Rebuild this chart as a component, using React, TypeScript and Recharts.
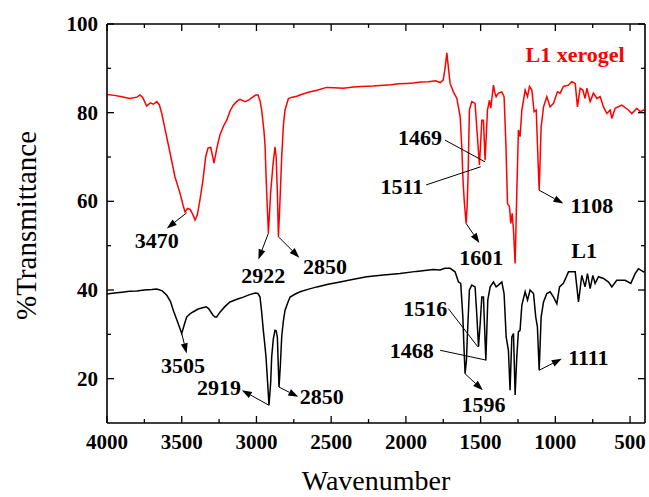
import React from 'react';
import { LineChart, Line, XAxis, YAxis, ReferenceLine, ReferenceDot, Label } from 'recharts';

// L1 xerogel (red) spectrum
const xerogelWavenumber = [
  4000, 3950, 3900, 3850, 3800, 3779, 3760, 3735, 3710, 3690, 3667, 3650, 3634, 3610, 3578, 3545, 3511, 3490,
  3478, 3460, 3444, 3425, 3411, 3395, 3378, 3357, 3340, 3324, 3306, 3284, 3265, 3244, 3220, 3199, 3175, 3155,
  3130, 3110, 3076, 3050, 3030, 3005, 2989, 2975, 2965, 2950, 2942, 2935, 2920, 2905, 2890, 2876, 2868, 2860,
  2853, 2845, 2831, 2820, 2809, 2786, 2760, 2730, 2700, 2641, 2600, 2530, 2480, 2420, 2350, 2300, 2220, 2150,
  2100, 2050, 1994, 1950, 1900, 1850, 1800, 1793, 1770, 1750, 1738, 1726, 1715, 1704, 1682, 1659, 1637, 1626,
  1618, 1610, 1597, 1590, 1584, 1575, 1559, 1537, 1526, 1508, 1500, 1492, 1481, 1470, 1462, 1454, 1441, 1432,
  1414, 1405, 1396, 1381, 1358, 1343, 1331, 1320, 1307, 1298, 1289, 1280, 1269, 1258, 1247, 1236, 1224, 1202,
  1186, 1173, 1157, 1142, 1128, 1120, 1108, 1095, 1079, 1057, 1035, 1012, 986, 968, 946, 912, 890, 867, 852,
  834, 816, 801, 789, 767, 745, 722, 700, 678, 655, 633, 622, 600, 555, 511, 488, 455, 432, 410, 400,
];
const xerogelTransmittance = [
  84.1, 83.9, 83.6, 83.2, 83.5, 84.0, 83.4, 81.5, 82.2, 81.9, 82.5, 81.8, 79.9, 76, 70.9, 65.5, 61.8, 59,
  57.6, 58.4, 58.2, 57, 55.8, 57, 60.3, 65, 70, 72, 72.2, 68.6, 72, 75, 77, 78.3, 80.5, 81.7,
  82.6, 83, 82.5, 82.9, 83.4, 84, 84, 82.5, 80.6, 76, 72.3, 65, 52.8, 62, 68, 72.3, 70, 62,
  52, 58, 70, 77, 80.6, 83.2, 83.5, 83.7, 84.1, 84.7, 85, 85.7, 85.6, 85.5, 85.8, 85.9, 86, 86.2,
  86.3, 86.5, 86.6, 86.7, 86.9, 87, 87.2, 87.1, 86.8, 87.4, 90, 93.5, 90, 86.6, 84.7, 83.2, 79.1, 72.3,
  65, 60.3, 55, 59, 65.5, 80.6, 82.5, 82.1, 76.8, 68.2, 73, 78.3, 78.3, 69.3, 75, 80.6, 82.8, 81,
  86.2, 84.5, 83.6, 84.4, 84.7, 83.6, 73.1, 59.5, 58.8, 55, 57.3, 53.5, 46, 61.8, 76.1, 74.6, 80.6, 85.1,
  83.6, 85.9, 85.1, 80.2, 80.6, 73.1, 62.5, 76.8, 81.3, 83.6, 81.3, 82.1, 84.7, 84.4, 85.9, 86.2, 87, 86.6, 81.3,
  85.5, 85.1, 83.2, 85.5, 82.5, 84.4, 83.2, 83.6, 81.3, 79.8, 80.6, 78.7, 81, 81.7, 80.6, 79.8, 81, 80.2, 80.6, 80.4,
];

// L1 (black) spectrum
const l1Wavenumber = [
  4000, 3950, 3900, 3850, 3800, 3750, 3700, 3667, 3630, 3600, 3575, 3556, 3530, 3500, 3480, 3467, 3445, 3422,
  3390, 3360, 3337, 3320, 3306, 3290, 3277, 3266, 3244, 3210, 3177, 3130, 3088, 3050, 3009, 2990, 2976, 2965,
  2954, 2945, 2936, 2925, 2916, 2905, 2898, 2887, 2876, 2868, 2860, 2855, 2849, 2840, 2831, 2820, 2809, 2790,
  2775, 2740, 2708, 2650, 2596, 2520, 2440, 2350, 2262, 2150, 2039, 1930, 1816, 1771, 1740, 1704, 1671, 1648,
  1633, 1619, 1610, 1604, 1595, 1588, 1575, 1559, 1537, 1526, 1514, 1503, 1492, 1481, 1465, 1452, 1436, 1414,
  1396, 1381, 1358, 1343, 1329, 1314, 1303, 1291, 1280, 1269, 1258, 1247, 1236, 1224, 1202, 1186, 1169, 1146,
  1131, 1120, 1108, 1095, 1079, 1057, 1035, 1012, 990, 972, 946, 912, 867, 845, 823, 801, 785, 767, 749, 734,
  711, 678, 644, 622, 589, 533, 495, 466, 444, 410, 400,
];
const l1Transmittance = [
  39.1, 39.3, 39.5, 39.7, 39.8, 40, 40.1, 40.2, 39.8, 38.8, 37.4, 35.4, 33, 30.2, 32.5, 33.9, 34.6, 35.1,
  35.7, 36, 36.2, 35.8, 35.1, 34.3, 33.9, 33.9, 35, 36.3, 37.3, 37.9, 38.4, 38.9, 39.3, 39.2, 38.4, 35,
  30.9, 28, 24.9, 19, 14, 19, 24.9, 29, 30.9, 30.8, 29.4, 24, 18.1, 23, 29.4, 33, 35.4, 37.2,
  38.4, 39.1, 39.6, 40.2, 40.7, 41.3, 41.8, 42.4, 43, 43.4, 43.7, 44.2, 44.6, 44.5, 44.9, 44.9, 44.1, 41.8,
  41.5, 34, 26, 21.1, 24, 30.2, 40, 41.1, 40.7, 34.7, 27.2, 32.4, 38.4, 38.4, 24.1, 37.7, 40.7, 41.8,
  40.7, 41.1, 41.8, 39.2, 29.4, 26.4, 17.4, 29.4, 30.2, 16.3, 24.9, 30.6, 30.9, 36.6, 39.6, 37.7, 40, 39.2,
  33.9, 31.7, 21.9, 33.9, 37.3, 39.2, 39.6, 38.4, 36.9, 40.7, 41.5, 44.1, 44.1, 37.3, 43.3, 40.7, 43.7, 40.3, 43.3, 41.5,
  43, 42.6, 41.8, 40.7, 42.2, 42.2, 41.5, 43.7, 44.8, 44.1, 44.3,
];

const xTicks = [4000, 3750, 3500, 3250, 3000, 2750, 2500, 2250, 2000, 1750, 1500, 1250, 1000, 750, 500];
const yTicks = [20, 30, 40, 50, 60, 70, 80, 90, 100];
const xDomain = [400, 4000];
const yDomain = [10, 100];

// peak annotations: line from -> to, arrow head at "to"
const arrows = [
  { from: [3467, 57.4], to: [3600, 53.9], head: true },
  { from: [2920, 52.8], to: [2987, 46.9], head: true },
  { from: [2853, 52], to: [2713, 47.3], head: true },
  { from: [1597, 55], to: [1508, 50.6], head: true },
  { from: [1865, 63.7], to: [1499, 67.8], head: false },
  { from: [1738, 73.8], to: [1470, 68.9], head: false },
  { from: [1108, 62.5], to: [946, 59.5], head: true },
  { from: [3500, 30.2], to: [3467, 25.7], head: true },
  { from: [2916, 14], to: [3098, 17.4], head: true },
  { from: [2849, 18.1], to: [2720, 15.9], head: true },
  { from: [1716, 35.8], to: [1519, 27.2], head: false },
  { from: [1771, 26.4], to: [1465, 24.2], head: false },
  { from: [1604, 21.1], to: [1485, 17.4], head: true },
  { from: [1108, 21.9], to: [957, 24.5], head: true },
];

const peakLabels = [
  { text: '3470', w: 3667, t: 51.2, color: '#000' },
  { text: '2922', w: 2954, t: 43.3, color: '#000' },
  { text: '2850', w: 2541, t: 45.2, color: '#000' },
  { text: '1601', w: 1495, t: 47.3, color: '#000' },
  { text: '1511', w: 2027, t: 63.4, color: '#000' },
  { text: '1469', w: 1905, t: 74.4, color: '#000' },
  { text: '1108', w: 756, t: 59.1, color: '#000' },
  { text: 'L1 xerogel', w: 868, t: 93.2, color: '#ff0000' },
  { text: '3505', w: 3491, t: 23, color: '#000' },
  { text: '2919', w: 3250, t: 17.9, color: '#000' },
  { text: '2850', w: 2563, t: 15.9, color: '#000' },
  { text: '1516', w: 1871, t: 35.9, color: '#000' },
  { text: '1468', w: 1960, t: 26.4, color: '#000' },
  { text: '1596', w: 1481, t: 14.2, color: '#000' },
  { text: '1111', w: 779, t: 24.8, color: '#000' },
  { text: 'L1', w: 807, t: 48.9, color: '#000' },
];

const xerogelData = xerogelWavenumber.map((w, i) => ({ w, t: xerogelTransmittance[i] }));
const l1Data = l1Wavenumber.map((w, i) => ({ w, t: l1Transmittance[i] }));

// layout
const W = 649;
const H = 497;
const margin = { top: 24, right: 4, left: 5, bottom: 0 };
const yAxisWidth = 102;
const xAxisHeight = 74;

const serif = '"Liberation Serif", "Times New Roman", serif';

const BottomTick = ({ x, y, payload }: any) => {
  const major = payload.value % 500 === 0;
  return (
    <g>
      <line x1={x} x2={x} y1={y} y2={y - (major ? 7 : 4)} stroke="#000" strokeWidth={1.3} />
      {major && (
        <text x={x} y={y + 19} textAnchor="middle" dominantBaseline="central"
          fontFamily={serif} fontWeight={700} fontSize={21} fill="#000">
          {payload.value}
        </text>
      )}
    </g>
  );
};

const LeftTick = ({ x, y, payload }: any) => {
  const major = payload.value % 20 === 0;
  return (
    <g>
      <line x1={x} x2={x + (major ? 7 : 4)} y1={y} y2={y} stroke="#000" strokeWidth={1.3} />
      {major && (
        <text x={x - 9} y={y} textAnchor="end" dominantBaseline="central"
          fontFamily={serif} fontWeight={700} fontSize={21} fill="#000">
          {payload.value}
        </text>
      )}
    </g>
  );
};

const arrowShape = (head: boolean) => (p: any) => {
  const { x1, y1, x2, y2 } = p;
  if (!head) return <line x1={x1} y1={y1} x2={x2} y2={y2} stroke="#000" strokeWidth={1} />;
  const dx = x2 - x1;
  const dy = y2 - y1;
  const len = Math.sqrt(dx * dx + dy * dy) || 1;
  const ux = dx / len;
  const uy = dy / len;
  const hl = 10;
  const hw = 3.5;
  const bx = x2 - ux * hl;
  const by = y2 - uy * hl;
  const pts = `${x2},${y2} ${bx - uy * hw},${by + ux * hw} ${bx + uy * hw},${by - ux * hw}`;
  return (
    <g>
      <line x1={x1} y1={y1} x2={bx} y2={by} stroke="#000" strokeWidth={1} />
      <polygon points={pts} fill="#000" />
    </g>
  );
};

const textShape = (text: string, color: string) => (p: any) => (
  <text x={p.cx} y={p.cy} textAnchor="middle" dominantBaseline="central"
    fontFamily={serif} fontWeight={700} fontSize={22} fill={color}>
    {text}
  </text>
);

const YTitle = (p: any) => {
  const vb = p.viewBox;
  const cx = vb.x + 21;
  const cy = vb.y + vb.height / 2 + 2;
  return (
    <text x={cx} y={cy} transform={`rotate(-90, ${cx}, ${cy})`} textAnchor="middle" dominantBaseline="central"
      fontFamily={serif} fontSize={29} fill="#000">
      %Transmittance
    </text>
  );
};

const XTitle = (p: any) => {
  const vb = p.viewBox;
  return (
    <text x={vb.x + vb.width / 2} y={vb.y + 57} textAnchor="middle" dominantBaseline="central"
      fontFamily={serif} fontSize={28} fill="#000">
      Wavenumber
    </text>
  );
};

// top and right edges of the Origin-style box, with inward ticks
const FrameOverlay = () => {
  const left = margin.left + yAxisWidth;
  const top = margin.top;
  const right = W - margin.right;
  const bottom = H - margin.bottom - xAxisHeight;
  const [xMin, xMax] = xDomain;
  const [yMin, yMax] = yDomain;
  const px = (v: number) => left + ((xMax - v) / (xMax - xMin)) * (right - left);
  const py = (v: number) => top + ((yMax - v) / (yMax - yMin)) * (bottom - top);
  return (
    <svg width={W} height={H} style={{ position: 'absolute', left: 0, top: 0, pointerEvents: 'none' }}>
      <line x1={left} y1={top} x2={right} y2={top} stroke="#000" strokeWidth={1.6} />
      <line x1={right} y1={top} x2={right} y2={bottom} stroke="#000" strokeWidth={1.6} />
      {xTicks.map((t) => (
        <line key={`tt${t}`} x1={px(t)} x2={px(t)} y1={top} y2={top + (t % 500 === 0 ? 7 : 4)}
          stroke="#000" strokeWidth={1.3} />
      ))}
      {yTicks.map((t) => (
        <line key={`rt${t}`} x1={right} x2={right - (t % 20 === 0 ? 7 : 4)} y1={py(t)} y2={py(t)}
          stroke="#000" strokeWidth={1.3} />
      ))}
    </svg>
  );
};

export default function App() {
  return (
    <div style={{ position: 'absolute', left: 0, top: 0, width: W, height: H, background: '#fff' }}>
      <LineChart width={W} height={H} margin={margin}>
        <XAxis
          type="number"
          dataKey="w"
          domain={xDomain}
          reversed
          allowDataOverflow
          ticks={xTicks}
          interval={0}
          height={xAxisHeight}
          tickSize={0}
          tickMargin={0}
          tick={BottomTick}
          tickLine={false}
          axisLine={{ stroke: '#000', strokeWidth: 1.6 }}
        >
          <Label content={XTitle} />
        </XAxis>
        <YAxis
          type="number"
          domain={yDomain}
          allowDataOverflow
          ticks={yTicks}
          interval={0}
          width={yAxisWidth}
          tickSize={0}
          tickMargin={0}
          tick={LeftTick}
          tickLine={false}
          axisLine={{ stroke: '#000', strokeWidth: 1.6 }}
        >
          <Label content={YTitle} />
        </YAxis>
        <Line data={xerogelData} dataKey="t" stroke="#ff0000" strokeWidth={1.5} dot={false}
          isAnimationActive={false} type="linear" />
        <Line data={l1Data} dataKey="t" stroke="#000" strokeWidth={1.5} dot={false}
          isAnimationActive={false} type="linear" />
        {arrows.map((a, i) => (
          <ReferenceLine
            key={`a${i}`}
            segment={[{ x: a.from[0], y: a.from[1] }, { x: a.to[0], y: a.to[1] }]}
            shape={arrowShape(a.head)}
            ifOverflow="visible"
          />
        ))}
        {peakLabels.map((l, i) => (
          <ReferenceDot key={`l${i}`} x={l.w} y={l.t} r={0} shape={textShape(l.text, l.color)} ifOverflow="visible" />
        ))}
      </LineChart>
      <FrameOverlay />
    </div>
  );
}
